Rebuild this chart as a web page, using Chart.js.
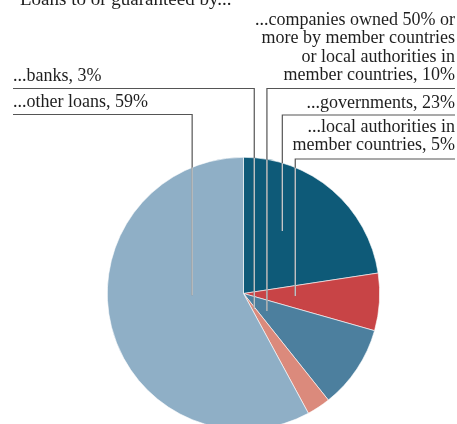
<!DOCTYPE html>
<html lang="en">
<head>
  <meta charset="UTF-8">
  <title>Loans to or guaranteed by...</title>
  <script src="https://cdn.jsdelivr.net/npm/chart.js"></script>
  <style>
    html, body {
      margin: 0;
      padding: 0;
      background: #fff;
      overflow: hidden;
      width: 457px;
      height: 424px;
    }
    #wrap {
      position: absolute;
      left: 0;
      top: 0;
      width: 457px;
      height: 460px;
    }
  </style>
</head>
<body>
  <div id="wrap"><canvas id="pie" width="457" height="460"></canvas></div>

  <script>
    // data, clockwise from 12 o'clock
    const categorias = ['governments', 'local authorities in member countries', 'companies owned 50% or more', 'banks', 'other loans'];
    const valores = [22.6, 6.8, 9.9, 2.8, 57.9];
    const etiquetas = [
      ['...governments, 23%'],
      ['...local authorities in', 'member countries, 5%'],
      ['...companies owned 50% or', 'more by member countries', 'or local authorities in', 'member countries, 10%'],
      ['...banks, 3%'],
      ['...other loans, 59%']
    ];
    const colores = ['#0e5a78', '#c84446', '#4c7f9e', '#db8a7c', '#8fafc6'];
    const titulo = 'Loans to or guaranteed by...';

    // where each label sits and where its leader goes (fx, fy = anchor as fraction of radius)
    const guias = [
      { side: 'right', base: 108, lineY: 115, fx: 0.285, fy: -0.458 },
      { side: 'right', base: 132, lineY: 159, fx: 0.38, fy: 0.018 },
      { side: 'right', base: 25, lineY: 88.5, fx: 0.172, fy: 0.128 },
      { side: 'left', base: 81, lineY: 88.5, fx: 0.079, fy: 0.115 },
      { side: 'left', base: 107, lineY: 114.5, fx: -0.377, fy: 0.012 }
    ];

    const FUENTE = '18px "Liberation Serif", "DejaVu Serif", serif';
    const INTERLINEA = 18.3;

    const etiquetasPlugin = {
      id: 'etiquetas',
      afterDatasetsDraw(chart) {
        const ctx = chart.ctx;
        const arc = chart.getDatasetMeta(0).data[0];
        const cx = arc.x, cy = arc.y, r = arc.outerRadius;

        ctx.save();
        // title, mostly cut off at the top
        ctx.fillStyle = '#1e1e1e';
        ctx.font = '19px "Liberation Serif", "DejaVu Serif", serif';
        ctx.textBaseline = 'alphabetic';
        ctx.textAlign = 'left';
        ctx.fillText(titulo, 20, 5);

        ctx.font = FUENTE;
        guias.forEach((g, i) => {
          const vx = cx + g.fx * r;
          const ey = cy + g.fy * r;
          const x0 = g.side === 'left' ? 13 : 455;

          // leader: dark outside the pie
          ctx.strokeStyle = '#555';
          ctx.lineWidth = 1.2;
          ctx.beginPath();
          ctx.moveTo(x0, g.lineY);
          ctx.lineTo(vx, g.lineY);
          ctx.lineTo(vx, ey);
          ctx.stroke();

          // light over the pie
          ctx.save();
          ctx.beginPath();
          ctx.arc(cx, cy, r, 0, Math.PI * 2);
          ctx.clip();
          ctx.strokeStyle = '#cfd3d6';
          ctx.beginPath();
          ctx.moveTo(vx, g.lineY);
          ctx.lineTo(vx, ey);
          ctx.stroke();
          ctx.restore();

          // text
          ctx.fillStyle = '#1e1e1e';
          ctx.textAlign = g.side === 'left' ? 'left' : 'right';
          etiquetas[i].forEach((t, k) => {
            ctx.fillText(t, x0, g.base + k * INTERLINEA);
          });
        });
        ctx.restore();
      }
    };

    new Chart(document.getElementById('pie').getContext('2d'), {
      type: 'pie',
      data: {
        labels: categorias,
        datasets: [{
          data: valores,
          backgroundColor: colores,
          borderColor: '#ffffff',
          borderWidth: 0.6
        }]
      },
      options: {
        responsive: false,
        animation: false,
        layout: { padding: { left: 107, right: 77, top: 157, bottom: 30 } },
        plugins: {
          legend: { display: false },
          tooltip: { enabled: false }
        }
      },
      plugins: [etiquetasPlugin]
    });
  </script>
</body>
</html>
